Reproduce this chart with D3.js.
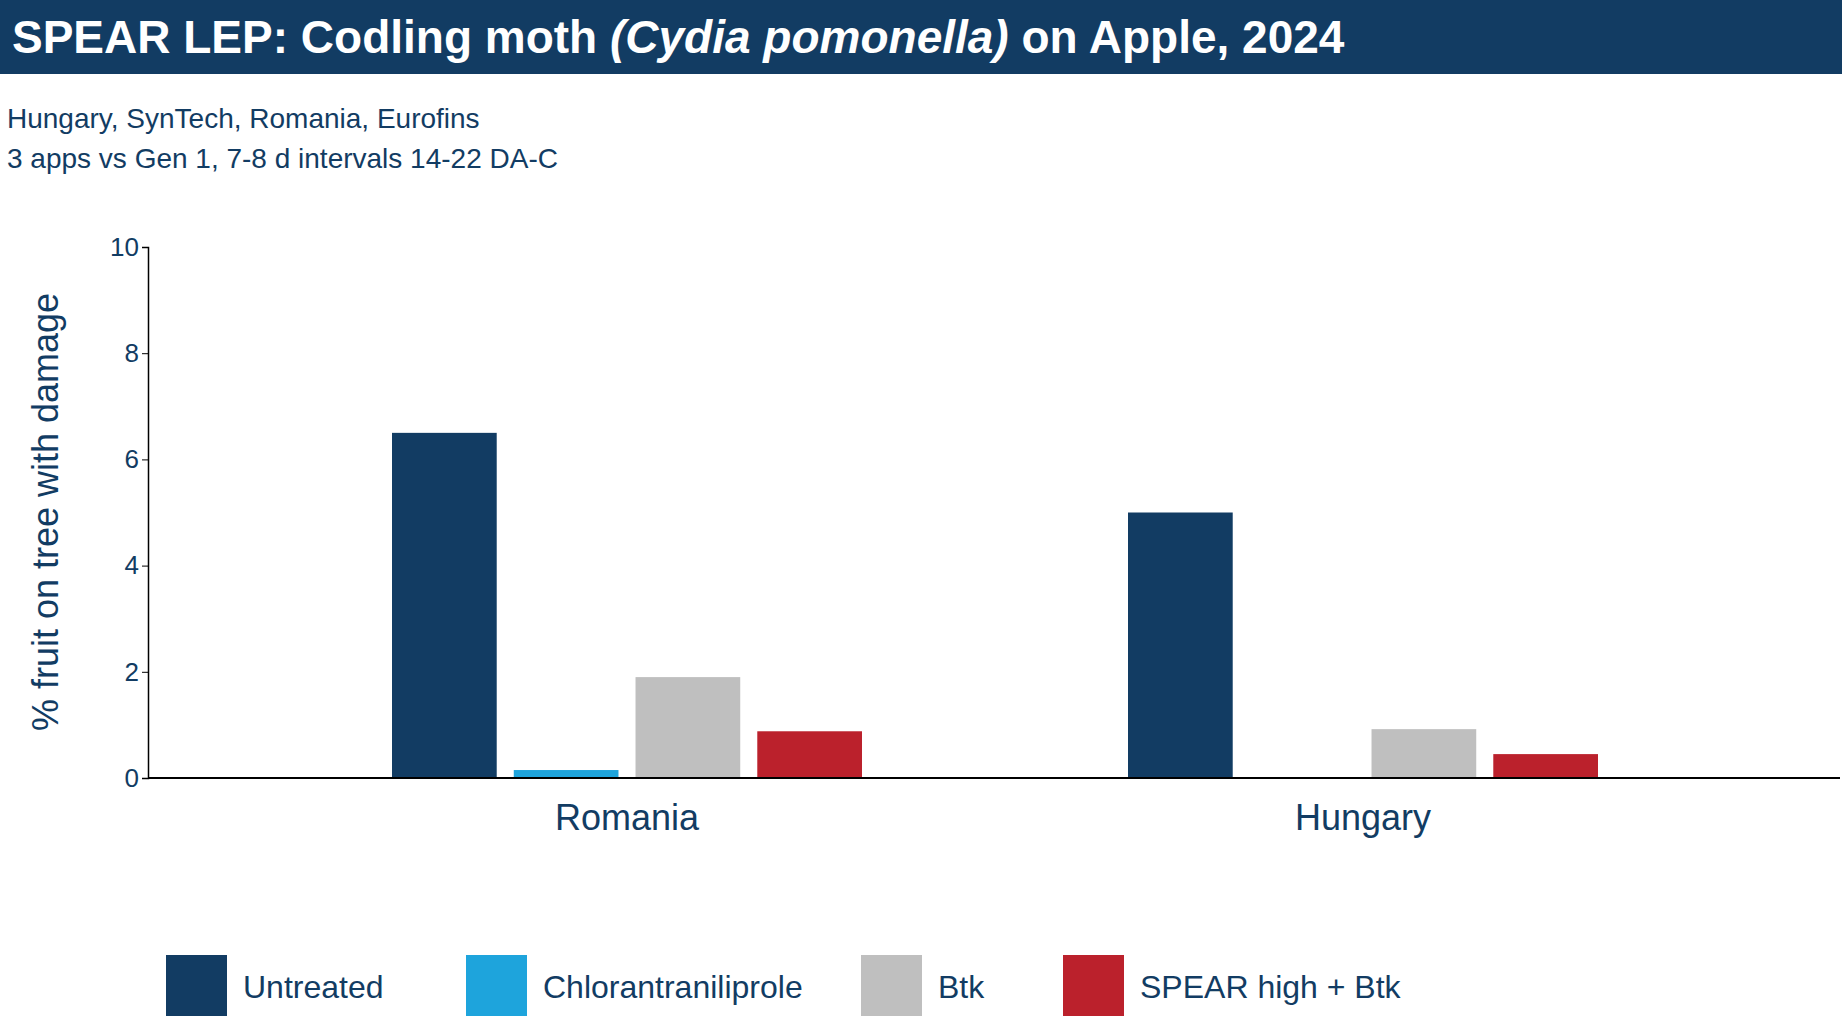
<!DOCTYPE html>
<html><head><meta charset="utf-8">
<script src="https://cdn.jsdelivr.net/npm/d3@7"></script>
<style>body{margin:0;background:#fff;font-family:"Liberation Sans",Arial,sans-serif}</style>
</head><body><svg id="c" width="1842" height="1016"></svg>
<script>
const countries = ["Romania", "Hungary"];
const treatments = ["Untreated", "Chlorantraniliprole", "Btk", "SPEAR high + Btk"];
const colors = ["#123c63", "#1ea4dc", "#bfbfbf", "#bb212c"];
const values = {
  Romania: [6.5, 0.15, 1.9, 0.88],
  Hungary: [5.0, 0, 0.92, 0.45]
};
const yTicks = [0, 2, 4, 6, 8, 10];
const navy = "#123c63";

const svg = d3.select("#c");
svg.append("rect").attr("width", 1842).attr("height", 74).attr("fill", navy);
const t = svg.append("text").attr("x", 12).attr("y", 53).attr("fill", "#fff")
  .attr("font-size", 46).attr("font-weight", "bold");
t.append("tspan").text("SPEAR LEP: Codling moth ");
t.append("tspan").attr("font-style", "italic").text("(Cydia pomonella)");
t.append("tspan").text(" on Apple,  2024");
svg.append("text").attr("x", 7).attr("y", 128).attr("font-size", 28).attr("fill", navy)
  .text("Hungary, SynTech, Romania, Eurofins");
svg.append("text").attr("x", 7).attr("y", 168).attr("font-size", 28).attr("fill", navy)
  .text("3 apps vs Gen 1, 7-8 d intervals 14-22 DA-C");

const y = d3.scaleLinear().domain([0, 10]).range([778, 247]);
const x = d3.scaleBand().domain(countries).range([259, 1731]);
const xi = d3.scaleBand().domain(treatments).range([-235, 235]).paddingInner(0.14);

const ya = svg.append("g").attr("transform", "translate(148,0)")
  .call(d3.axisLeft(y).tickValues(yTicks).tickSize(6).tickFormat(d3.format("d")));
ya.select(".domain").attr("stroke", "#000").attr("stroke-width", 1.5);
ya.selectAll("text").attr("font-size", 26).attr("fill", navy).attr("font-family", "Liberation Sans");

countries.forEach(c => {
  const cx = x(c) + x.bandwidth() / 2;
  svg.append("g").selectAll("rect").data(treatments).join("rect")
    .attr("x", d => cx + xi(d)).attr("width", xi.bandwidth())
    .attr("y", (d, i) => y(values[c][i]))
    .attr("height", (d, i) => y(0) - y(values[c][i]))
    .attr("fill", (d, i) => colors[i]);
  svg.append("text").attr("x", cx).attr("y", 830).attr("text-anchor", "middle")
    .attr("font-size", 36).attr("fill", navy).text(c);
});
svg.append("line").attr("x1", 148).attr("x2", 1840).attr("y1", 778).attr("y2", 778)
  .attr("stroke", "#000").attr("stroke-width", 2);

svg.append("text").attr("transform", "translate(58,512) rotate(-90)").attr("text-anchor", "middle")
  .attr("font-size", 36).attr("fill", navy).text("% fruit on tree with damage");

const legX = [166, 466, 861, 1063];
treatments.forEach((d, i) => {
  svg.append("rect").attr("x", legX[i]).attr("y", 955).attr("width", 61).attr("height", 61).attr("fill", colors[i]);
  svg.append("text").attr("x", legX[i] + 77).attr("y", 998).attr("font-size", 32).attr("fill", navy).text(d);
});
</script></body></html>
